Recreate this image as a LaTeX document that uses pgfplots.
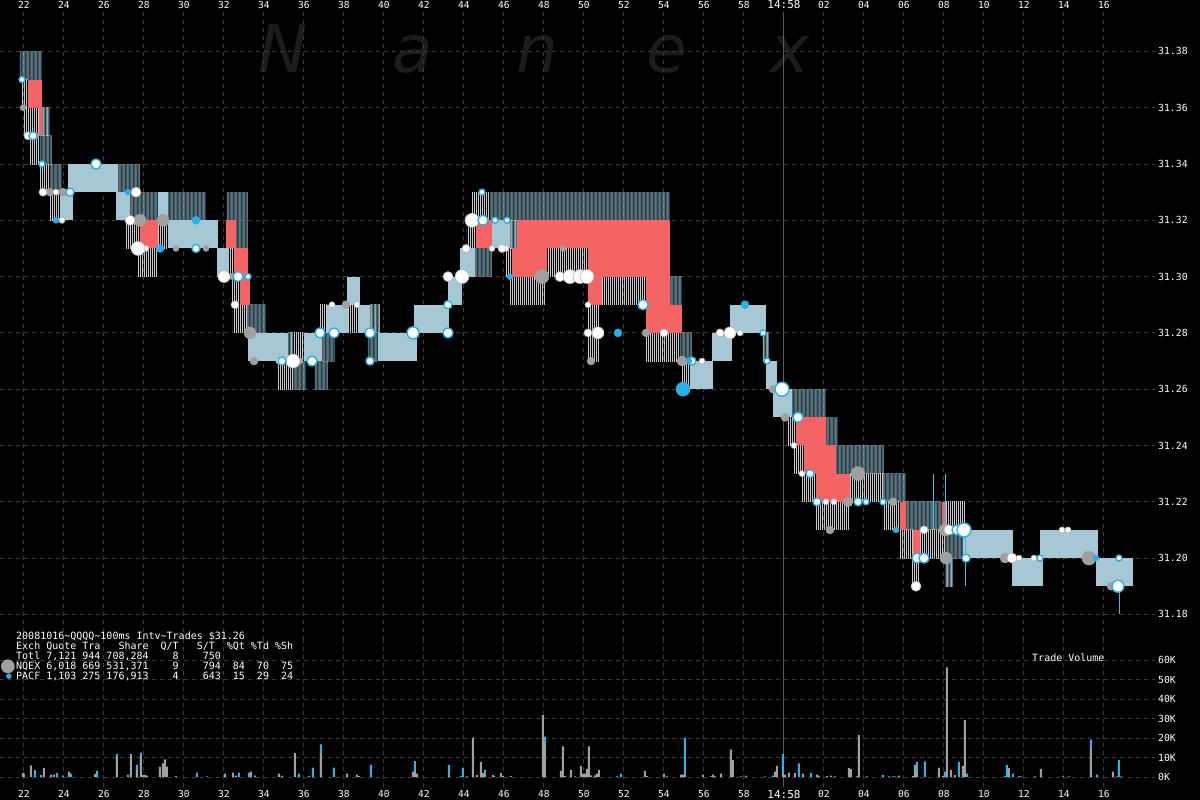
\documentclass[border=0pt]{standalone}
\usepackage{fontspec}
\setmainfont{DejaVu Sans Mono}
\newfontfamily\wmfont{DejaVu Sans}
\usepackage{pgfplots}
\pgfplotsset{compat=1.18}
\usetikzlibrary{patterns,patterns.meta}

\definecolor{gridc}{RGB}{58,58,58}
\definecolor{cyanc}{RGB}{60,190,236}
\definecolor{grayline}{RGB}{200,200,200}
\definecolor{fillc}{RGB}{166,200,212}
\definecolor{redc}{RGB}{245,100,100}
\definecolor{dotgray}{RGB}{160,160,160}
\definecolor{dotcyan}{RGB}{40,176,232}
\definecolor{volgray}{RGB}{160,160,160}
\definecolor{volcyan}{RGB}{40,180,232}
\definecolor{wmc}{RGB}{28,28,28}
\definecolor{sepc}{RGB}{90,90,90}

\pgfdeclarepatterninherentlycolored{cyanstripes}
 {\pgfpointorigin}{\pgfpoint{4pt}{1pt}}{\pgfpoint{4pt}{1pt}}
 {\pgfsetfillcolor{cyanc}\pgfpathrectangle{\pgfpointorigin}{\pgfpoint{1.3pt}{1pt}}\pgfusepath{fill}%
  \pgfsetfillcolor{grayline}\pgfpathrectangle{\pgfpoint{2pt}{0pt}}{\pgfpoint{1.2pt}{1pt}}\pgfusepath{fill}}

\tikzset{
 recC/.style={draw=none, mark=none, pattern=cyanstripes},
 recG/.style={draw=none, mark=none, pattern={Lines[angle=90,distance=2pt,line width=1pt]}, pattern color=grayline},
 recF/.style={draw=none, mark=none, fill=fillc},
 recR/.style={draw=none, mark=none, fill=redc},
 recL/.style={draw=none, mark=none, fill=cyanc},
 dW/.style={mark options={fill=white, draw=gray!60, line width=0.6pt}},
 dR/.style={mark options={fill=white, draw=dotcyan, line width=1.4pt}},
 dG/.style={mark options={fill=dotgray, draw=dotgray, line width=0.4pt}},
 dB/.style={mark options={fill=dotcyan, draw=dotcyan, line width=0.4pt}},
}

\pgfplotsset{
 nanexaxis/.style={
  scale only axis, width=1155pt,
  xmin=20.8, xmax=78.55,
  axis line style={draw=none},
  major tick length=0pt,
  grid=major,
  major grid style={draw=gridc, line width=1pt, dash pattern=on 4pt off 4pt},
  xtick={22,24,26,28,30,32,34,36,38,40,42,44,46,48,50,52,54,56,58,62,64,66,68,70,72,74,76},
  xticklabels={22,24,26,28,30,32,34,36,38,40,42,44,46,48,50,52,54,56,58,02,04,06,08,10,12,14,16},
  extra x ticks={60},
  extra x tick labels={14:58},
  extra x tick style={major grid style={draw=sepc, line width=1pt, solid}, xticklabel style={font=\fontsize{11}{11}\selectfont}},
  tick label style={text=white, font=\fontsize{9.6}{10}\selectfont},
  /pgf/number format/assume math mode=true,
 },
 vbar/.style={ybar, bar width=2pt, bar shift=0pt, draw=none},
}

% quote bands: t_start/t_end/low/high
\def\listC{21.8/22.9/31.37/31.38, 22.9/23.3/31.35/31.36, 22.8/23.4/31.34/31.35, 23.3/23.9/31.33/31.34,
 26.7/27.8/31.33/31.34, 27.3/28.7/31.32/31.33, 29.2/31.1/31.32/31.33, 32.15/33.2/31.31/31.33,
 33.15/34.1/31.28/31.29, 35.2/35.45/31.27/31.28, 36.9/37.55/31.27/31.28, 35.45/36.1/31.26/31.27,
 36.55/37.2/31.26/31.27, 39.3/39.8/31.28/31.29, 39.2/39.7/31.27/31.28, 44.55/45.4/31.30/31.31,
 46.3/46.65/31.31/31.32, 45.3/54.3/31.32/31.33, 54.3/54.9/31.29/31.30, 54.8/55.4/31.27/31.28,
 58.95/59.25/31.27/31.28, 60.4/62.1/31.25/31.26, 62.1/62.7/31.24/31.25, 62.6/65.0/31.23/31.24,
 64.95/66.1/31.22/31.23, 66.1/67.9/31.21/31.22, 68.05/68.95/31.20/31.21, 68.05/68.45/31.19/31.20}
\def\listG{21.9/22.2/31.36/31.37, 22.0/22.75/31.35/31.36, 22.3/22.8/31.34/31.35, 22.8/23.3/31.33/31.34,
 23.3/23.8/31.32/31.33, 27.1/27.8/31.31/31.32, 28.7/29.2/31.31/31.32, 27.7/28.65/31.30/31.31,
 32.25/32.5/31.30/31.31, 32.4/32.8/31.29/31.30, 32.45/33.15/31.28/31.29, 35.45/36.0/31.27/31.28,
 34.7/35.45/31.26/31.27, 36.8/37.15/31.28/31.29, 38.2/38.7/31.28/31.29, 44.15/44.6/31.31/31.32,
 44.4/45.3/31.32/31.33, 46.1/46.4/31.30/31.31, 48.15/50.2/31.30/31.31, 46.3/48.05/31.29/31.30,
 50.9/53.1/31.29/31.30, 50.2/50.8/31.27/31.29, 53.1/54.8/31.27/31.28, 54.9/55.3/31.26/31.27,
 60.15/60.6/31.24/31.25, 60.5/61.0/31.23/31.24, 60.9/61.6/31.22/31.23, 63.3/64.95/31.22/31.23,
 61.6/63.25/31.21/31.22, 64.95/65.8/31.21/31.22, 68.1/69.1/31.21/31.22, 65.8/66.45/31.20/31.21,
 66.8/68.05/31.20/31.21, 66.4/66.75/31.19/31.20}
\def\listF{24.2/26.7/31.33/31.34, 23.8/24.45/31.32/31.33, 26.6/27.3/31.32/31.33, 28.7/29.2/31.32/31.33,
 29.2/31.7/31.31/31.32, 31.65/32.25/31.30/31.31, 33.2/35.2/31.27/31.28, 36.0/36.9/31.27/31.28,
 37.15/38.2/31.28/31.29, 38.7/39.3/31.28/31.29, 38.15/38.8/31.29/31.30, 39.7/41.65/31.27/31.28,
 41.5/43.25/31.28/31.29, 43.2/43.9/31.29/31.30, 43.8/44.55/31.30/31.31, 45.4/46.3/31.31/31.32,
 56.4/57.4/31.27/31.28, 57.3/59.1/31.28/31.29, 55.3/56.45/31.26/31.27, 59.1/59.65/31.26/31.27,
 59.45/60.4/31.25/31.26, 68.95/71.45/31.20/31.21, 72.8/75.7/31.20/31.21, 71.4/72.95/31.19/31.20,
 75.6/77.45/31.19/31.20}
\def\listR{22.2/22.9/31.36/31.37, 22.75/22.9/31.35/31.36, 27.8/28.7/31.31/31.32, 32.1/32.6/31.31/31.32,
 32.5/33.2/31.30/31.31, 32.8/33.3/31.29/31.30, 44.6/45.4/31.31/31.32, 46.65/54.3/31.31/31.32,
 46.4/48.15/31.30/31.31, 50.2/54.3/31.30/31.31, 50.2/50.9/31.29/31.30, 53.1/54.3/31.29/31.30,
 53.1/54.9/31.28/31.29, 60.6/62.1/31.24/31.25, 61.0/62.6/31.23/31.24, 61.6/63.3/31.22/31.23,
 65.8/66.1/31.21/31.22, 67.9/68.1/31.21/31.22, 66.45/66.8/31.20/31.21}
\def\listL{67.45/67.5/31.21/31.23, 68.05/68.1/31.21/31.23, 69.05/69.1/31.19/31.21, 76.75/76.8/31.18/31.19}

\newcommand\bands[2]{%
 \foreach \a/\b/\c/\d in #1 {%
  \edef\temp{\noexpand\addplot[#2] coordinates {(\a,\c) (\b,\c) (\b,\d) (\a,\d)};}\temp
 }}
% trades: style, radius, coordinates
\newcommand\trades[3]{\addplot[only marks, mark=*, mark size=#2pt, #1] coordinates {#3};}

\begin{document}
\begin{tikzpicture}[x=1pt,y=1pt]
\path[fill=black, use as bounding box] (0pt,0pt) rectangle (1200pt,-800pt);
% watermark
\begin{scope}[every node/.style={text=wmc, font=\wmfont\itshape\fontsize{66}{66}\selectfont, anchor=base, inner sep=0pt}]
\node at (283pt,-73pt) {N};
\node at (413pt,-73pt) {a};
\node at (537pt,-73pt) {n};
\node at (667pt,-73pt) {e};
\node at (790pt,-73pt) {x};
\end{scope}

% price axis
\begin{axis}[nanexaxis, at={(0pt,-12pt)}, anchor=north west, height=628pt,
  ymin=31.1709, ymax=31.394,
  ytick={31.18,31.20,31.22,31.24,31.26,31.28,31.30,31.32,31.34,31.36,31.38},
  yticklabel pos=right,
  yticklabel style={anchor=west, inner sep=0pt, xshift=3pt, font=\fontsize{9.8}{10}\selectfont,
    /pgf/number format/fixed, /pgf/number format/fixed zerofill, /pgf/number format/precision=2},
  xticklabel pos=upper,
  xticklabel style={anchor=south, inner sep=0pt, yshift=3.5pt}]
\bands{\listC}{recC}
\bands{\listG}{recG}
\bands{\listF}{recF}
\bands{\listR}{recR}
\bands{\listL}{recL}

% gray trades
\trades{dG}{3}{(21.95,31.36) (22.6,31.35) (29.6,31.31) (31.1,31.31) (32.4,31.30) (35.8,31.27) (36.5,31.27) (48.95,31.31)}
\trades{dG}{4}{(23.3,31.33) (23.95,31.33) (33.5,31.27) (38.1,31.29) (53.1,31.28) (50.35,31.27) (59.45,31.26) (60.05,31.25) (65.45,31.22) (62.3,31.21) (76.35,31.19)}
\trades{dG}{5}{(54.9,31.27) (63.2,31.22) (71.05,31.20)}
\trades{dG}{6}{(27.8,31.32) (28.95,31.32) (33.3,31.28) (68.05,31.21) (68.1,31.20)}
\trades{dG}{7}{(47.9,31.30) (63.7,31.23) (75.25,31.20)}
% white trades
\trades{dW}{3}{(23.6,31.33) (23.9,31.32) (28.1,31.31) (34.75,31.27) (37.4,31.29) (38.65,31.29) (45.4,31.31) (46.1,31.31) (50.2,31.29) (55.9,31.27) (57.8,31.28) (60.5,31.24) (60.9,31.23) (62.1,31.22) (62.5,31.22) (71.75,31.20) (72.5,31.20) (73.9,31.21) (74.2,31.21)}
\trades{dW}{4}{(22.2,31.35) (22.95,31.33) (32.55,31.29) (44.1,31.31) (45.9,31.31) (50.2,31.28) (54.0,31.28) (56.8,31.28) (67.0,31.21)}
\trades{dW}{5}{(27.6,31.33) (27.3,31.32) (43.2,31.30) (48.8,31.30) (68.25,31.21) (71.4,31.20) (66.6,31.19)}
\trades{dW}{6}{(32.0,31.30) (50.7,31.28) (57.3,31.28)}
\trades{dW}{7}{(27.7,31.31) (35.45,31.27) (44.4,31.32) (43.9,31.30) (49.3,31.30) (49.8,31.30) (50.15,31.30)}
% ringed trades
\trades{dR}{3}{(21.9,31.37) (22.9,31.34) (33.2,31.30) (44.9,31.33) (45.55,31.32) (46.15,31.32) (58.95,31.28) (59.15,31.27) (64.1,31.22) (64.95,31.22) (72.8,31.20) (76.75,31.20)}
\trades{dR}{4}{(22.45,31.35) (24.3,31.33) (30.6,31.31) (34.9,31.27) (39.3,31.27) (43.2,31.29) (55.4,31.27) (61.3,31.23) (61.65,31.22) (63.7,31.22) (69.1,31.20)}
\trades{dR}{5}{(25.6,31.34) (32.7,31.30) (36.4,31.27) (36.8,31.28) (37.5,31.28) (39.3,31.28) (44.95,31.32) (43.2,31.28) (52.95,31.29) (60.7,31.25) (68.65,31.21) (66.65,31.20) (67.0,31.20)}
\trades{dR}{6}{(41.45,31.28) (76.7,31.19)}
\trades{dR}{7}{(59.9,31.26) (69.0,31.21)}
% cyan trades
\trades{dB}{3}{(23.6,31.32) (27.2,31.33) (46.3,31.30) (65.6,31.21) (75.6,31.20) (55.25,31.27)}
\trades{dB}{4}{(30.6,31.32) (28.8,31.31) (51.7,31.28) (58.05,31.29)}
\trades{dB}{7}{(54.95,31.26)}
\end{axis}

% volume axis
\begin{axis}[nanexaxis, at={(0pt,-640pt)}, anchor=north west, height=147pt,
  ymin=-5.13, ymax=70.26,
  ytick={0,10,20,30,40,50,60},
  yticklabels={0K,10K,20K,30K,40K,50K,60K},
  yticklabel pos=right,
  yticklabel style={anchor=west, inner sep=0pt, xshift=3pt, font=\fontsize{9.8}{10}\selectfont},
  xticklabel style={anchor=north, inner sep=0pt, yshift=-3pt}]
\addplot[vbar, fill=volcyan] table[x=t, y=v, row sep=\\] {t v\\
22.0 1.7\\ 22.55 3.7\\ 22.85 1.0\\ 23.65 2.0\\ 23.95 0.7\\ 24.35 1.7\\ 25.65 3.2\\ 26.65 11.7\\
27.2 1.2\\ 27.65 6.2\\ 27.85 12.5\\ 28.8 5.3\\ 30.65 2.3\\ 32.75 2.3\\ 33.25 2.3\\ 34.9 0.7\\
35.75 1.7\\ 36.25 0.5\\ 36.45 4.8\\ 36.85 16.7\\ 37.5 4.8\\ 39.35 6.2\\ 41.55 8.2\\ 43.25 6.2\\
43.85 0.5\\ 43.95 4.7\\ 45.05 3.7\\ 45.5 0.5\\ 46.35 0.5\\ 48.05 20.7\\ 51.65 0.3\\ 51.85 1.7\\
55.05 20.2\\ 57.35 14.2\\ 58.1 0.7\\ 59.05 0.3\\ 59.45 0.7\\ 59.95 11.7\\ 60.75 7.0\\ 61.35 2.0\\
61.75 0.7\\ 63.75 21.5\\ 64.15 0.3\\ 64.95 1.0\\ 65.55 0.3\\ 66.65 7.7\\ 67.05 8.0\\ 68.05 2.7\\
68.75 7.7\\ 69.15 1.7\\ 71.05 0.5\\ 71.15 6.2\\ 71.45 1.7\\ 75.35 19.2\\ 75.65 1.2\\ 76.65 0.3\\
76.75 8.7\\ 76.85 0.3\\
};
\addplot[vbar, fill=volgray] table[x=t, y=v, row sep=\\] {t v\\
21.95 2.0\\ 22.35 6.0\\ 23.0 4.7\\ 23.35 1.2\\ 23.5 1.2\\ 24.25 2.7\\ 25.55 1.5\\ 26.65 10.3\\
27.35 11.7\\ 27.65 3.7\\ 27.85 10.3\\ 27.95 1.0\\ 28.05 1.0\\ 28.15 0.7\\ 28.8 3.7\\ 28.95 7.0\\
29.05 9.0\\ 29.15 5.3\\ 29.6 0.5\\ 31.15 0.3\\ 32.05 1.7\\ 32.45 2.3\\ 32.6 0.7\\ 33.35 2.8\\
33.55 0.7\\ 34.75 1.7\\ 35.55 12.3\\ 36.85 12.0\\ 38.15 1.7\\ 38.65 1.2\\ 38.75 0.5\\ 41.45 2.8\\
41.55 2.8\\ 41.65 1.7\\ 43.25 0.8\\ 44.15 0.3\\ 44.45 20.2\\ 44.65 1.0\\ 44.85 7.7\\ 44.95 2.0\\
45.05 1.0\\ 45.45 1.0\\ 45.85 2.0\\ 45.95 0.5\\ 47.95 31.7\\ 48.05 16.7\\ 48.85 3.2\\ 48.95 15.7\\
49.05 0.5\\ 49.35 3.7\\ 49.55 0.3\\ 49.85 5.7\\ 49.95 1.7\\ 50.05 1.7\\ 50.15 4.2\\ 50.25 15.7\\
50.35 0.8\\ 50.55 0.8\\ 50.65 1.7\\ 50.75 3.7\\ 53.05 3.2\\ 53.15 0.5\\ 54.0 1.7\\ 54.15 0.3\\
54.85 1.2\\ 54.95 1.2\\ 55.05 1.2\\ 55.95 1.2\\ 56.35 0.3\\ 56.45 1.2\\ 56.55 0.3\\ 56.85 1.7\\
57.35 13.3\\ 57.45 8.7\\ 57.85 0.3\\ 59.55 2.7\\ 59.65 5.7\\ 59.95 1.7\\ 60.05 1.2\\ 60.25 2.2\\
60.55 2.0\\ 60.95 1.7\\ 61.65 1.2\\ 62.15 0.5\\ 62.35 0.7\\ 62.55 0.3\\ 63.25 4.7\\ 63.35 4.0\\
63.65 0.3\\ 63.75 21.0\\ 65.25 0.3\\ 65.45 0.3\\ 65.75 0.7\\ 66.45 0.5\\ 66.55 6.2\\ 66.65 2.8\\
67.75 4.7\\ 67.95 0.5\\ 68.15 56.2\\ 68.35 3.5\\ 68.55 1.0\\ 68.95 5.7\\ 69.05 29.2\\ 71.25 4.7\\
71.75 0.3\\ 71.85 0.3\\ 72.55 0.3\\ 72.85 4.2\\ 73.95 0.3\\ 74.25 0.3\\ 75.35 15.0\\ 76.45 2.7\\
};
\end{axis}

% info block
\begin{scope}[every node/.style={anchor=base west, inner sep=0pt, text=white, font=\fontsize{10}{10}\selectfont}]
\node at (16pt,-639.5pt) {20081016\textasciitilde QQQQ\textasciitilde 100ms Intv\textasciitilde Trades \$31.26};
\node at (16pt,-649.5pt) {Exch Quote Tra~~~Share~~Q/T~~~S/T~~\%Qt \%Td \%Sh};
\node at (16pt,-659.5pt) {Totl 7,121 944 708,284~~~~8~~~~750};
\node at (16pt,-669.5pt) {NQEX 6,018 669 531,371~~~~9~~~~794~~84~~70~~75};
\node at (16pt,-679.5pt) {PACF 1,103 275 176,913~~~~4~~~~643~~15~~29~~24};
\node at (1032pt,-661pt) {Trade Volume};
\end{scope}
\node[inner sep=0pt, text=dotgray, font=\wmfont\fontsize{18}{18}\selectfont] at (8pt,-666.5pt) {●};
\node[inner sep=0pt, text=dotcyan, font=\wmfont\fontsize{7}{7}\selectfont] at (9pt,-677pt) {●};
\end{tikzpicture}
\end{document}
